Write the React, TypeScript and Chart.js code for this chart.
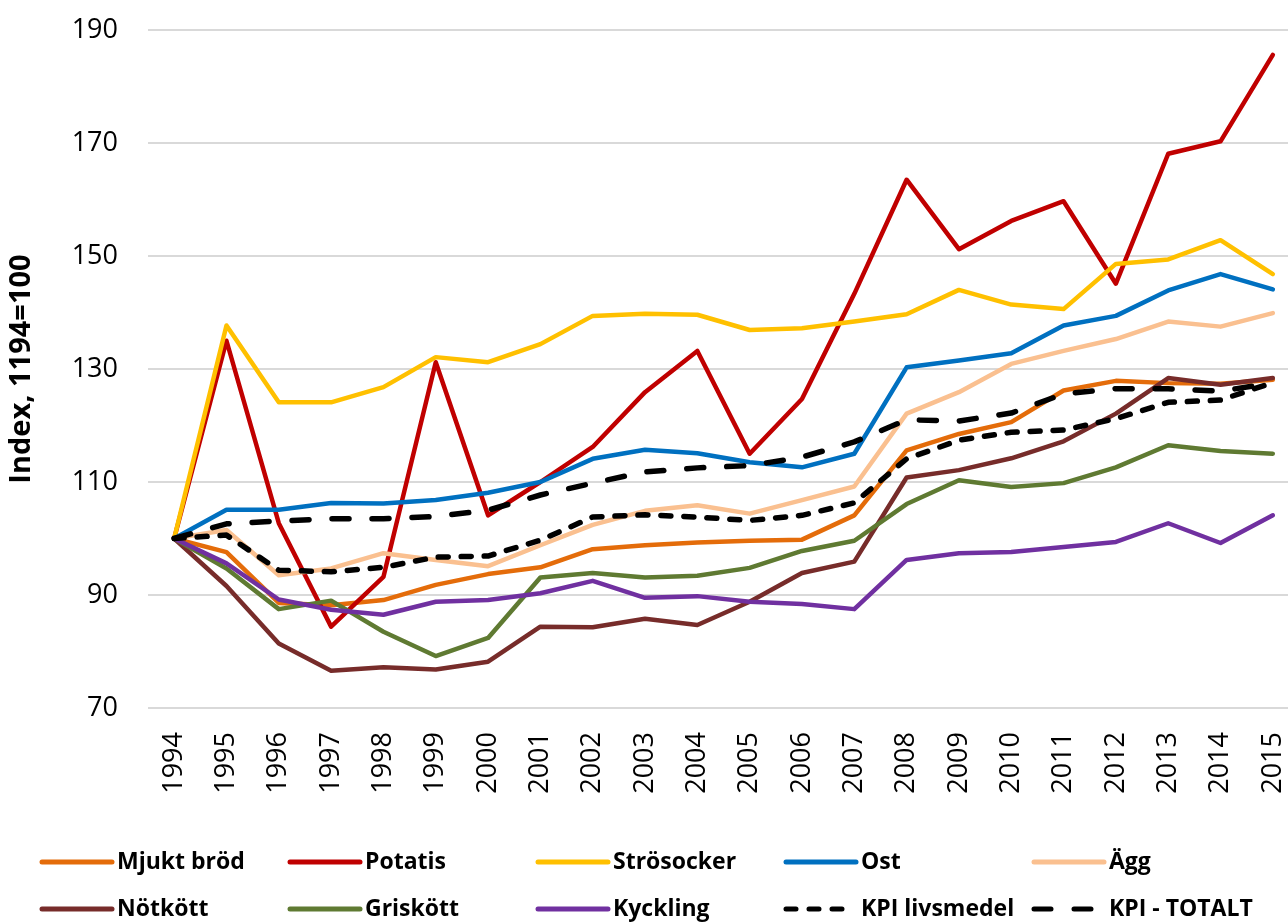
import React, { useEffect, useRef } from 'react';
import { Chart, registerables } from 'chart.js';

Chart.register(...registerables);

const years = ['1994', '1995', '1996', '1997', '1998', '1999', '2000', '2001', '2002', '2003', '2004', '2005', '2006', '2007', '2008', '2009', '2010', '2011', '2012', '2013', '2014', '2015'];

const mjuktBrod = [100, 97.6, 88.6, 88.2, 89.1, 91.8, 93.7, 94.9, 98.1, 98.8, 99.3, 99.6, 99.8, 104.1, 115.6, 118.5, 120.6, 126.2, 127.9, 127.5, 127.4, 128.1];
const potatis = [100, 135.0, 102.7, 84.4, 93.2, 131.2, 104.1, 110.0, 116.2, 125.9, 133.2, 115.0, 124.7, 143.3, 163.5, 151.2, 156.2, 159.7, 145.1, 168.1, 170.3, 185.6];
const strosocker = [100, 137.7, 124.1, 124.1, 126.8, 132.1, 131.2, 134.4, 139.4, 139.8, 139.6, 136.9, 137.2, 138.4, 139.7, 144.0, 141.4, 140.6, 148.6, 149.4, 152.8, 146.8];
const ost = [100, 105.1, 105.1, 106.3, 106.2, 106.8, 108.1, 110.0, 114.1, 115.7, 115.1, 113.5, 112.6, 115.0, 130.3, 131.5, 132.8, 137.7, 139.4, 143.9, 146.8, 144.1];
const agg = [100, 101.5, 93.5, 94.7, 97.4, 96.2, 95.1, 98.8, 102.4, 104.9, 105.9, 104.4, 106.8, 109.2, 122.1, 125.9, 130.9, 133.2, 135.3, 138.4, 137.5, 139.9];
const notkott = [100, 91.6, 81.4, 76.6, 77.2, 76.8, 78.2, 84.4, 84.3, 85.8, 84.7, 88.8, 93.9, 95.9, 110.8, 112.1, 114.2, 117.2, 122.1, 128.4, 127.2, 128.4];
const griskott = [100, 94.7, 87.5, 89.0, 83.5, 79.2, 82.4, 93.1, 93.9, 93.1, 93.4, 94.8, 97.8, 99.6, 106.1, 110.3, 109.1, 109.8, 112.6, 116.5, 115.5, 115.0];
const kyckling = [100, 95.6, 89.2, 87.4, 86.5, 88.8, 89.1, 90.3, 92.5, 89.5, 89.8, 88.8, 88.4, 87.5, 96.2, 97.4, 97.6, 98.5, 99.4, 102.7, 99.2, 104.1];
const kpiLivsmedel = [100, 100.6, 94.4, 94.1, 94.9, 96.7, 96.9, 99.7, 103.8, 104.2, 103.8, 103.2, 104.1, 106.3, 114.1, 117.4, 118.8, 119.2, 121.2, 124.1, 124.5, 127.6];
const kpiTotalt = [100, 102.6, 103.1, 103.5, 103.5, 103.9, 105.0, 107.7, 109.8, 111.8, 112.5, 112.9, 114.4, 117.1, 121.0, 120.8, 122.2, 125.6, 126.5, 126.5, 126.1, 127.5];

const yTicks = [70, 90, 110, 130, 150, 170, 190];
const yTitle = 'Index, 1194=100';

const FONT = '"Open Sans", "DejaVu Sans", sans-serif';

const gridLegend = {
  id: 'gridLegend',
  afterDraw(chart: any) {
    const ctx = chart.ctx;
    ctx.save();
    chart.data.datasets.forEach((ds: any, i: number) => {
      const col = i % 5;
      const row = Math.floor(i / 5);
      const x0 = 42 + col * 248;
      const y = 862 + row * 47;
      const len = ds.borderDash && ds.borderDash[0] < 12 ? 58 : 70;
      ctx.beginPath();
      ctx.strokeStyle = ds.borderColor;
      ctx.lineWidth = 5;
      ctx.lineCap = 'round';
      ctx.setLineDash(ds.borderDash || []);
      ctx.moveTo(x0, y);
      ctx.lineTo(x0 + len, y);
      ctx.stroke();
      ctx.setLineDash([]);
      ctx.fillStyle = '#000';
      ctx.font = 'bold 23px ' + FONT;
      ctx.textBaseline = 'middle';
      ctx.textAlign = 'left';
      ctx.fillText(ds.label, x0 + 75, y);
    });
    ctx.restore();
  },
};

function line(label: string, data: number[], color: string, idx: number, dash?: number[]) {
  return {
    label,
    data,
    borderColor: color,
    backgroundColor: color,
    borderWidth: dash ? 5.5 : 4.5,
    borderDash: dash,
    borderCapStyle: 'round' as const,
    borderJoinStyle: 'round' as const,
    pointRadius: 0,
    tension: 0,
    fill: false,
    order: -idx,
  };
}

export default function App() {
  const ref = useRef<HTMLCanvasElement>(null);
  useEffect(() => {
    const chart = new Chart(ref.current!, {
      type: 'line',
      data: {
        labels: years,
        datasets: [
          line('Mjukt bröd', mjuktBrod, '#E46C0A', 0),
          line('Potatis', potatis, '#C00000', 1),
          line('Strösocker', strosocker, '#FFC000', 2),
          line('Ost', ost, '#0070C0', 3),
          line('Ägg', agg, '#FAC090', 4),
          line('Nötkött', notkott, '#772C2A', 5),
          line('Griskött', griskott, '#5F7A32', 6),
          line('Kyckling', kyckling, '#7030A0', 7),
          line('KPI livsmedel', kpiLivsmedel, '#000000', 8, [10, 13]),
          line('KPI - TOTALT', kpiTotalt, '#000000', 9, [17, 23]),
        ],
      },
      options: {
        responsive: false,
        animation: false,
        devicePixelRatio: 1,
        layout: { padding: { top: 30, right: 3, bottom: 0, left: 0 } },
        plugins: {
          legend: { display: false },
          tooltip: { enabled: false },
        },
        scales: {
          x: {
            type: 'category',
            offset: true,
            grid: { display: false },
            border: { display: false },
            ticks: {
              autoSkip: false,
              minRotation: 90,
              maxRotation: 90,
              padding: 16,
              color: '#000',
              font: { family: FONT, size: 27 },
            },
            afterFit: (s: any) => {
              s.height = 214;
              s.paddingLeft = 0;
              s.paddingRight = 0;
            },
          },
          y: {
            min: 70,
            max: 190,
            afterBuildTicks: (s: any) => {
              s.ticks = yTicks.map((v) => ({ value: v }));
            },
            grid: { color: '#d9d9d9', lineWidth: 2, drawTicks: false },
            border: { display: false },
            ticks: {
              padding: 30,
              color: '#000',
              font: { family: FONT, size: 27 },
            },
            title: {
              display: true,
              text: yTitle,
              color: '#000',
              font: { family: FONT, size: 29, weight: 'bold' },
            },
            afterFit: (s: any) => {
              s.width = 148;
              s.paddingTop = 0;
              s.paddingBottom = 0;
            },
          },
        },
      },
      plugins: [gridLegend],
    });
    return () => chart.destroy();
  }, []);
  return (
    <div style={{ position: 'fixed', left: 0, top: 0, width: 1288, height: 922, overflow: 'hidden', background: '#fff' }}>
      <canvas ref={ref} width={1302} height={922} style={{ display: 'block', width: 1302, height: 922 }} />
    </div>
  );
}
